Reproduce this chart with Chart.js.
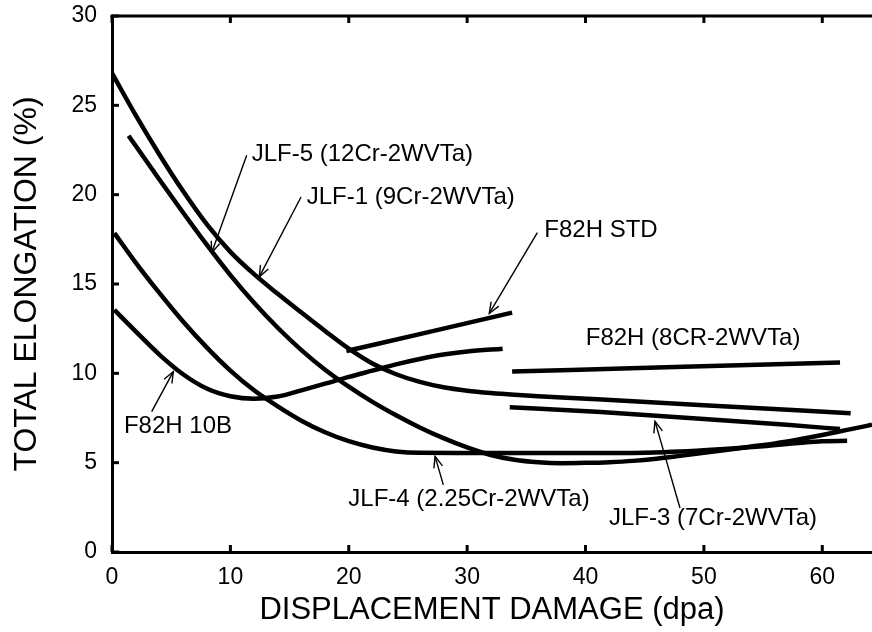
<!DOCTYPE html>
<html><head><meta charset="utf-8">
<script src="https://cdn.jsdelivr.net/npm/chart.js@4.4.1/dist/chart.umd.min.js"></script>
<style>html,body{margin:0;padding:0;background:#fff;}#wrap{width:872px;height:632px;position:relative;}</style>
</head><body><div id="wrap"><canvas id="c"></canvas></div>
<script>
// ---- tick labels ----
const xTicks = [0, 10, 20, 30, 40, 50, 60];
const yTicks = [0, 5, 10, 15, 20, 25, 30];

// ---- series (dpa, total elongation %) ----
const jlf1X = [0, 2, 4, 6, 8, 10, 12, 14, 16, 18, 20, 22, 24, 26, 28, 30, 32, 34, 36, 41, 50, 62.4];
const jlf1Y = [26.8, 24.45, 22.25, 20.2, 18.35, 16.8, 15.55, 14.45, 13.4, 12.37, 11.38, 10.55, 9.95, 9.52, 9.22, 9.03, 8.9, 8.8, 8.72, 8.55, 8.22, 7.77];

const jlf5X = [1.4, 4, 6, 8, 10, 12, 14, 16, 18, 20, 22, 24, 26, 28, 30, 32, 34, 36, 38, 40, 42, 44, 46, 48, 50, 52, 54, 56, 58, 60, 62, 64.2];
const jlf5Y = [23.3, 20.85, 19.0, 17.2, 15.5, 13.95, 12.55, 11.3, 10.2, 9.25, 8.4, 7.65, 6.97, 6.37, 5.85, 5.43, 5.16, 5.02, 4.97, 4.99, 5.03, 5.1, 5.22, 5.38, 5.55, 5.72, 5.9, 6.08, 6.3, 6.55, 6.82, 7.12];

const jlf4X = [0.2, 2, 4, 6, 8, 10, 12, 14, 16, 18, 20, 22, 24, 26, 30, 35, 40, 45, 48, 52, 55, 58, 60, 62.1];
const jlf4Y = [17.85, 16.2, 14.5, 12.9, 11.45, 10.15, 9.05, 8.15, 7.35, 6.7, 6.2, 5.85, 5.63, 5.55, 5.54, 5.54, 5.54, 5.56, 5.62, 5.78, 5.92, 6.1, 6.2, 6.22];

const f10bX = [0.2, 2, 4, 6, 8, 10, 12, 14, 16, 18, 20, 22, 24, 26, 28, 30, 33];
const f10bY = [13.55, 12.35, 11.05, 9.95, 9.15, 8.72, 8.58, 8.7, 9.05, 9.42, 9.8, 10.15, 10.5, 10.8, 11.05, 11.22, 11.38];

const fStdX = [19.8, 27, 33.8];
const fStdY = [11.25, 12.35, 13.4];

const f8crX = [33.8, 47.5, 61.5];
const f8crY = [10.1, 10.35, 10.6];

const jlf3X = [33.6, 41.3, 50, 57, 61.5];
const jlf3Y = [8.1, 7.83, 7.45, 7.12, 6.88];

// ---- annotation labels (anchors in data units) ----
const notes = [
  {text: 'JLF-5 (12Cr-2WVTa)', at: [11.8, 22.27], from: [11.38, 22.2], to: [8.42, 16.75]},
  {text: 'JLF-1 (9Cr-2WVTa)', at: [16.45, 19.87], from: [15.97, 19.87], to: [12.44, 15.4]},
  {text: 'F82H STD', at: [36.52, 18.0], from: [35.93, 17.88], to: [31.87, 13.35]},
  {text: 'F82H (8CR-2WVTa)', at: [40.02, 11.95]},
  {text: 'F82H 10B', at: [1.01, 7.05], from: [3.35, 7.86], to: [5.18, 10.1]},
  {text: 'JLF-4 (2.25Cr-2WVTa)', at: [19.96, 2.92], from: [27.99, 3.76], to: [27.29, 5.35]},
  {text: 'JLF-3 (7Cr-2WVTa)', at: [41.98, 1.9], from: [47.98, 2.46], to: [45.87, 7.31]}
];

const pts = (xs, ys) => xs.map((x, i) => ({x, y: ys[i]}));
const FONT = '"Liberation Sans", Arial, Helvetica, sans-serif';

const mk = (label, xs, ys) => ({
  label, data: pts(xs, ys), borderColor: '#000', borderWidth: 4.5,
  pointRadius: 0, fill: false, cubicInterpolationMode: 'monotone', borderCapStyle: 'butt'
});

const frame = {
  id: 'frame',
  afterDatasetsDraw(chart) {
    const {ctx, chartArea: a, scales: {x, y}} = chart;
    ctx.save();
    ctx.strokeStyle = '#000';
    ctx.lineWidth = 3;
    ctx.beginPath(); ctx.moveTo(a.left - 1.5, a.top); ctx.lineTo(a.right, a.top); ctx.stroke();
    const L = 7;
    xTicks.forEach(v => {
      const px = x.getPixelForValue(v);
      ctx.beginPath(); ctx.moveTo(px, a.top); ctx.lineTo(px, a.top + L); ctx.stroke();
      ctx.beginPath(); ctx.moveTo(px, a.bottom); ctx.lineTo(px, a.bottom - L); ctx.stroke();
    });
    yTicks.forEach(v => {
      const py = y.getPixelForValue(v);
      ctx.beginPath(); ctx.moveTo(a.left, py); ctx.lineTo(a.left + L, py); ctx.stroke();
    });
    ctx.fillStyle = '#000';
    ctx.font = '24px ' + FONT;
    ctx.textAlign = 'left';
    ctx.textBaseline = 'middle';
    notes.forEach(n => {
      ctx.fillText(n.text, x.getPixelForValue(n.at[0]), y.getPixelForValue(n.at[1]));
      if (n.from) {
        const x0 = x.getPixelForValue(n.from[0]), y0 = y.getPixelForValue(n.from[1]);
        const x1 = x.getPixelForValue(n.to[0]), y1 = y.getPixelForValue(n.to[1]);
        ctx.lineWidth = 1.4;
        ctx.beginPath(); ctx.moveTo(x0, y0); ctx.lineTo(x1, y1); ctx.stroke();
        const ang = Math.atan2(y1 - y0, x1 - x0), h = 12, s = 0.38;
        ctx.beginPath();
        ctx.moveTo(x1 - h * Math.cos(ang - s), y1 - h * Math.sin(ang - s));
        ctx.lineTo(x1, y1);
        ctx.lineTo(x1 - h * Math.cos(ang + s), y1 - h * Math.sin(ang + s));
        ctx.stroke();
      }
    });
    ctx.restore();
  }
};

new Chart(document.getElementById('c'), {
  type: 'line',
  data: {
    datasets: [
      mk('JLF-1 (9Cr-2WVTa)', jlf1X, jlf1Y),
      mk('JLF-5 (12Cr-2WVTa)', jlf5X, jlf5Y),
      mk('JLF-4 (2.25Cr-2WVTa)', jlf4X, jlf4Y),
      mk('F82H 10B', f10bX, f10bY),
      mk('F82H STD', fStdX, fStdY),
      mk('F82H (8CR-2WVTa)', f8crX, f8crY),
      mk('JLF-3 (7Cr-2WVTa)', jlf3X, jlf3Y)
    ]
  },
  options: {
    responsive: true, maintainAspectRatio: false, animation: false,
    layout: {padding: {top: 16, right: 0, left: 0, bottom: 0}},
    plugins: {legend: {display: false}, tooltip: {enabled: false}},
    elements: {line: {borderJoinStyle: 'round'}},
    scales: {
      x: {
        type: 'linear', min: 0, max: 64.2,
        afterBuildTicks: s => { s.ticks = xTicks.map(v => ({value: v})); },
        afterFit: s => { s.height = 80; s.paddingLeft = 0; s.paddingRight = 0; },
        grid: {display: false, drawTicks: false},
        border: {display: true, color: '#000', width: 3},
        ticks: {color: '#000', padding: 12, font: {size: 23, family: FONT}, maxRotation: 0},
        title: {display: true, text: 'DISPLACEMENT DAMAGE (dpa)', color: '#000',
                font: {size: 31, family: FONT}, padding: {top: 0, bottom: 3}}
      },
      y: {
        type: 'linear', min: 0, max: 30,
        afterBuildTicks: s => { s.ticks = yTicks.map(v => ({value: v})); },
        afterFit: s => { s.width = 112; s.paddingTop = 0; s.paddingBottom = 0; },
        grid: {display: false, drawTicks: false},
        border: {display: true, color: '#000', width: 3},
        ticks: {color: '#000', padding: 15, font: {size: 23, family: FONT}},
        title: {display: true, text: 'TOTAL ELONGATION (%)', color: '#000',
                font: {size: 32, family: FONT}, padding: {top: 8, bottom: 0}}
      }
    }
  },
  plugins: [frame]
});
</script></body></html>
